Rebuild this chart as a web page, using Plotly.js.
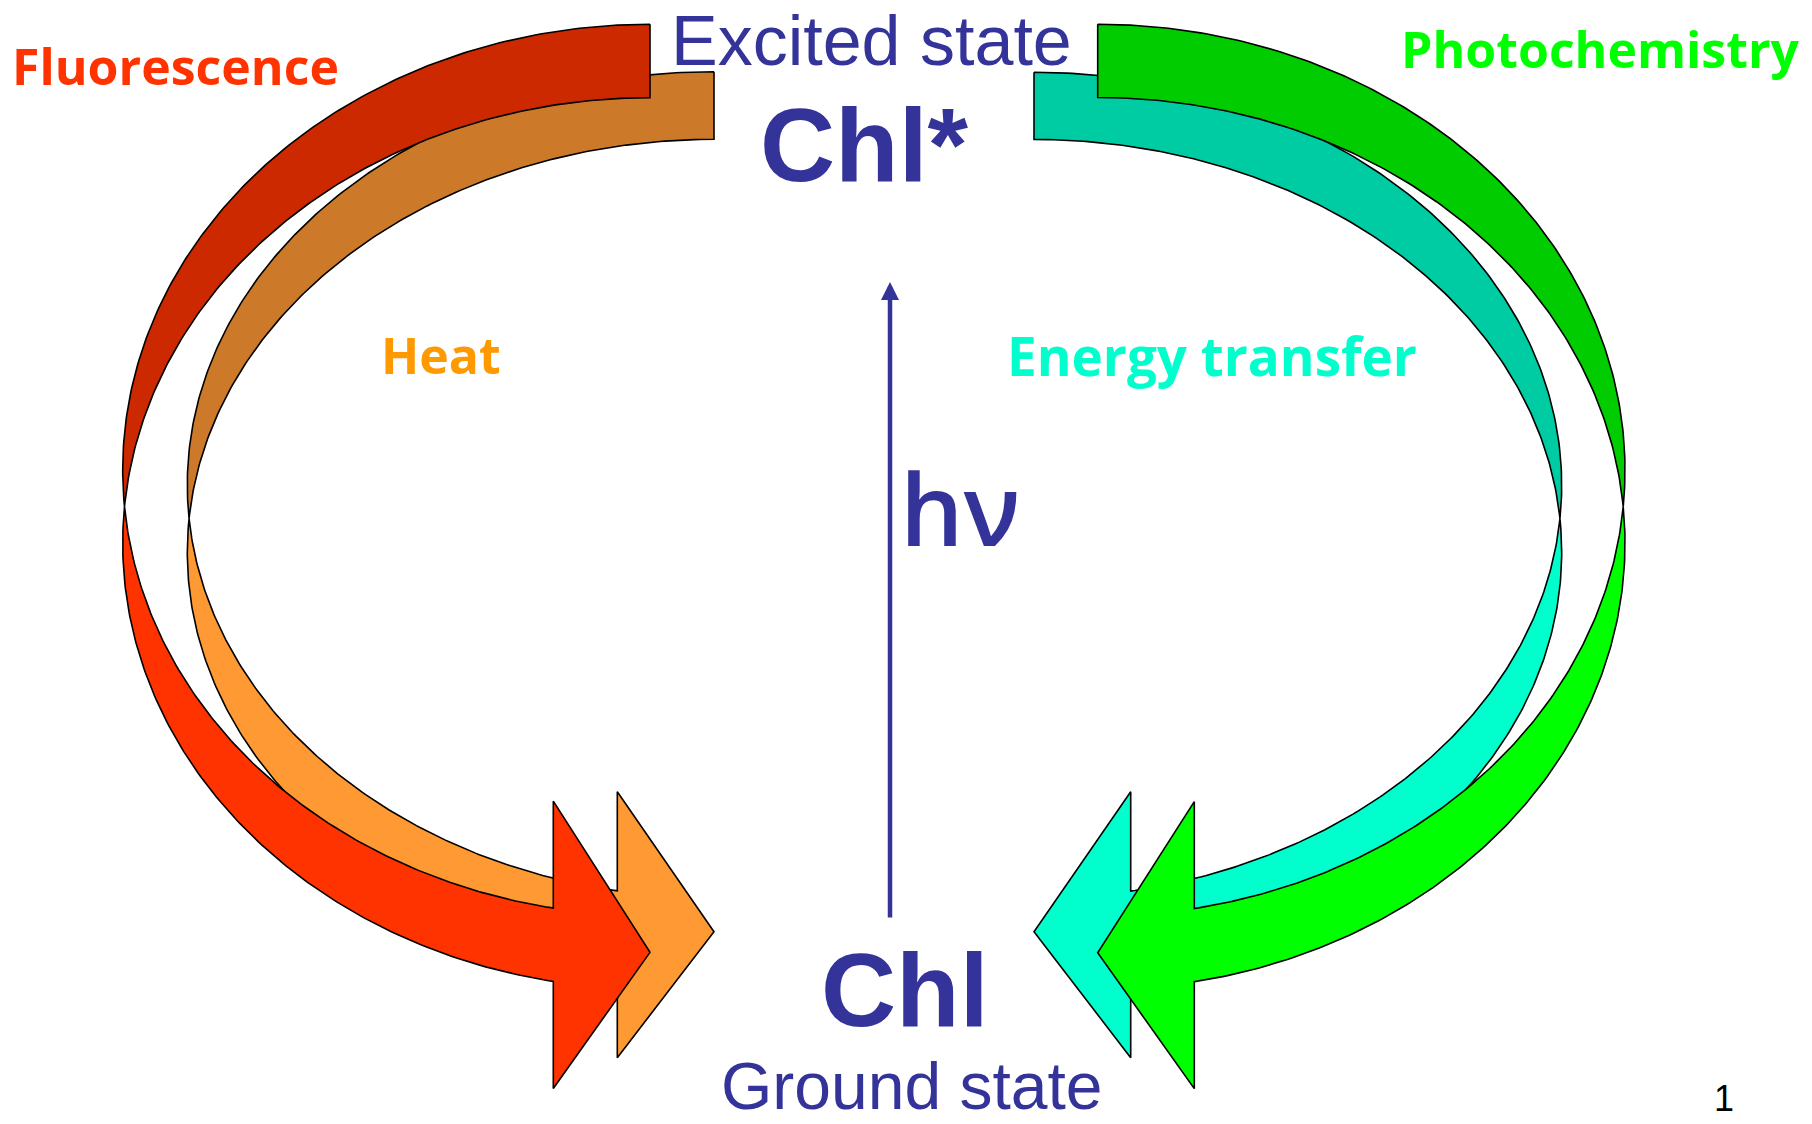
<!DOCTYPE html>
<html>
<head>
<meta charset="utf-8">
<script src="https://cdn.plot.ly/plotly-3.0.1.min.js"></script>
<style>html,body{margin:0;padding:0;background:#fff;overflow:hidden}</style>
</head>
<body>
<div id="chart" style="width:1812px;height:1124px"></div>
<script>
// ---------- content (labels) ----------
const processNames = ['Fluorescence', 'Heat', 'Energy transfer', 'Photochemistry'];
const stateNames = ['Excited state', 'Ground state'];
const moleculeNames = ['Chl*', 'Chl'];
const photonLabel = 'h\u03BD';
const pageLabel = '1';

// ---------- styles ----------
const navy = '#333399';
const bandColors = {            // [back (shaded), front (lit)]
  'Fluorescence':    ['#CC2900', '#FF3300'],
  'Heat':            ['#CC7A29', '#FF9933'],
  'Energy transfer': ['#00CCA3', '#00FFCC'],
  'Photochemistry':  ['#00CC00', '#00FF00']
};
const labelColors = {
  'Fluorescence': '#FF3300', 'Heat': '#FF9900',
  'Energy transfer': '#00FFCC', 'Photochemistry': '#00FF00'
};

// ---------- geometry (slide pixel space, curved-arrow shape parameters) ----------
// side: -1 bulges left, +1 bulges right; tailX: tail / tip x; top, bottom: shape box;
// w: horizontal radius; th: shaft thickness; aw: head width; ah: head length
const arrowGeom = {
  'Heat':            {side:-1, tailX:714,    top:71.7, bottom:1064.7, w:526.7, th:67.6, aw:266,   ah:96.7},
  'Fluorescence':    {side:-1, tailX:650,    top:24.3, bottom:1096,   w:527.3, th:73.4, aw:287.3, ah:96.7},
  'Energy transfer': {side: 1, tailX:1034,   top:72.3, bottom:1064.7, w:527.7, th:67.2, aw:266,   ah:96.7},
  'Photochemistry':  {side: 1, tailX:1097.7, top:24.3, bottom:1096.2, w:527.3, th:73.2, aw:287,   ah:96.6}
};
const drawOrder = ['Heat', 'Fluorescence', 'Energy transfer', 'Photochemistry'];

const labelPos = {
  'Fluorescence':    {x:175,  y:66,  size:50},
  'Heat':            {x:441,  y:355, size:50},
  'Energy transfer': {x:1212, y:355, size:53},
  'Photochemistry':  {x:1600, y:49,  size:50}
};
const statePos = [{x:871, y:40.7, size:70}, {x:912, y:1085.6, size:66}];
const moleculePos = [{x:864, y:145, size:104}, {x:905, y:990, size:104}];
const photonPos = {x:960, y:507, size:100};
const excitationArrow = {x:890, yTop:282, yBottom:919, width:4.5};
const pagePos = {x:1724, y:1098, size:36};

// ---------- build ----------
function ellipsePts(g, cy, hR, a0, a1, n) {
  const xs = [], ys = [];
  for (let i = 0; i <= n; i++) {
    const a = a0 + (a1 - a0) * i / n;
    xs.push(g.tailX + g.side * g.w * Math.sin(a));
    ys.push(cy - hR * Math.cos(a));
  }
  return [xs, ys];
}

const traces = [];
drawOrder.forEach(name => {
  const g = arrowGeom[name];
  const N = 160;
  const hR = (g.bottom - g.top) / 2 - (g.th + g.aw) / 4;
  const cyA = g.top + hR;          // outer-top ellipse centre
  const cyB = g.top + hR + g.th;   // shifted ellipse centre
  const aA = Math.acos(-g.th / (2 * hR));   // crossing on A
  const aB = Math.acos(g.th / (2 * hR));    // crossing on B
  const aEnd = Math.PI - Math.asin(g.ah / g.w);
  // back (shaded) band
  let [ax, ay] = ellipsePts(g, cyA, hR, 0, aA, N);
  let [bx, by] = ellipsePts(g, cyB, hR, aB, 0, N);
  traces.push({
    type: 'scatter', mode: 'lines', x: ax.concat(bx, [ax[0]]), y: ay.concat(by, [ay[0]]),
    fill: 'toself', fillcolor: bandColors[name][0],
    line: {color: '#000', width: 1.6}, hoverinfo: 'skip', showlegend: false
  });
  // front (lit) band with arrowhead
  [ax, ay] = ellipsePts(g, cyA, hR, aA, aEnd, N);
  [bx, by] = ellipsePts(g, cyB, hR, aEnd, aB, N);
  const x1 = ax[ax.length - 1];
  const y5 = ay[ay.length - 1], y7 = by[0];
  const dh = (g.aw - g.th) / 2;
  const hx = [x1, g.tailX, x1];
  const hy = [y5 - dh, g.bottom - g.aw / 2, y7 + dh];
  traces.push({
    type: 'scatter', mode: 'lines',
    x: ax.concat(hx, bx, [ax[0]]), y: ay.concat(hy, by, [ay[0]]),
    fill: 'toself', fillcolor: bandColors[name][1],
    line: {color: '#000', width: 1.6}, hoverinfo: 'skip', showlegend: false
  });
});

const FONT = '"Open Sans", "Noto Sans", sans-serif';
const NAVYFONT = '"Liberation Sans", Arial, sans-serif';
const annotations = [];
processNames.forEach(name => {
  const p = labelPos[name];
  annotations.push({x: p.x, y: p.y, xref: 'x', yref: 'y', text: name, showarrow: false,
    xanchor: 'center', yanchor: 'middle',
    font: {family: FONT, size: p.size, color: labelColors[name], weight: 700}});
});
stateNames.forEach((s, i) => {
  const p = statePos[i];
  annotations.push({x: p.x, y: p.y, xref: 'x', yref: 'y', text: s, showarrow: false,
    xanchor: 'center', yanchor: 'middle', borderpad: 0,
    font: {family: NAVYFONT, size: p.size, color: navy, weight: 400}});
});
moleculeNames.forEach((s, i) => {
  const p = moleculePos[i];
  annotations.push({x: p.x, y: p.y, xref: 'x', yref: 'y', text: s, showarrow: false,
    xanchor: 'center', yanchor: 'middle', borderpad: 0,
    font: {family: NAVYFONT, size: p.size, color: navy, weight: 700}});
});
annotations.push({x: photonPos.x, y: photonPos.y, xref: 'x', yref: 'y', text: photonLabel, showarrow: false,
  xanchor: 'center', yanchor: 'middle',
  font: {family: FONT, size: photonPos.size, color: navy, weight: 600}});
annotations.push({x: excitationArrow.x, y: excitationArrow.yTop, ax: excitationArrow.x, ay: excitationArrow.yBottom,
  xref: 'x', yref: 'y', axref: 'x', ayref: 'y', text: '', showarrow: true,
  arrowhead: 2, arrowsize: 0.8, arrowwidth: excitationArrow.width, arrowcolor: navy, standoff: 0, startstandoff: 0});
annotations.push({x: pagePos.x, y: pagePos.y, xref: 'x', yref: 'y', text: pageLabel, showarrow: false,
  xanchor: 'center', yanchor: 'middle',
  font: {family: '"Liberation Sans", Arial, sans-serif', size: pagePos.size, color: '#000'}});

const layout = {
  width: 1812, height: 1124,
  margin: {l: 0, r: 0, t: 0, b: 0, pad: 0},
  paper_bgcolor: '#ffffff', plot_bgcolor: '#ffffff',
  xaxis: {range: [0, 1812], visible: false, fixedrange: true},
  yaxis: {range: [1124, 0], visible: false, fixedrange: true},
  showlegend: false,
  annotations: annotations
};
Plotly.newPlot('chart', traces, layout, {staticPlot: true, displayModeBar: false});
</script>
</body>
</html>
